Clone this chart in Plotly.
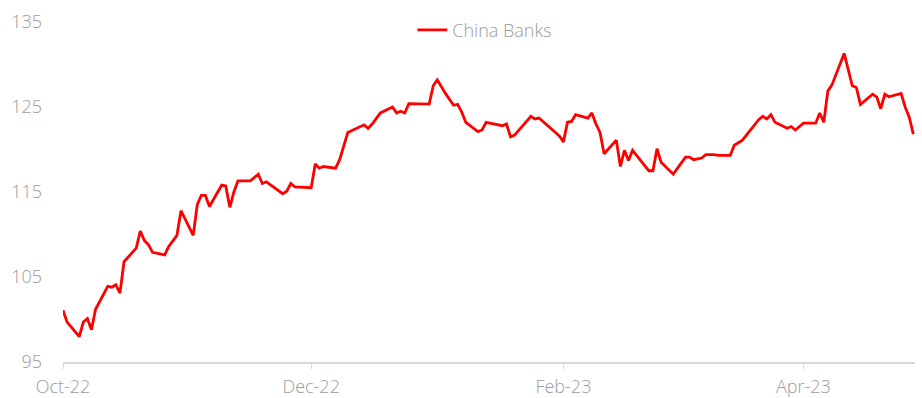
import plotly.graph_objects as go

# Vertex dates and index values
dates = [
    "2022-10-01", "2022-10-02", "2022-10-05", "2022-10-06", "2022-10-07", "2022-10-08", "2022-10-09",
    "2022-10-12", "2022-10-13", "2022-10-14", "2022-10-15", "2022-10-16", "2022-10-19", "2022-10-20",
    "2022-10-21", "2022-10-22", "2022-10-23", "2022-10-26", "2022-10-27", "2022-10-29", "2022-10-30",
    "2022-11-02", "2022-11-03", "2022-11-04", "2022-11-05", "2022-11-06", "2022-11-09", "2022-11-10",
    "2022-11-11", "2022-11-12", "2022-11-13", "2022-11-16", "2022-11-18", "2022-11-19", "2022-11-20",
    "2022-11-22", "2022-11-24", "2022-11-25", "2022-11-26", "2022-11-27", "2022-12-01", "2022-12-02",
    "2022-12-03", "2022-12-04", "2022-12-07", "2022-12-08", "2022-12-09", "2022-12-10", "2022-12-14",
    "2022-12-15", "2022-12-16", "2022-12-18", "2022-12-21", "2022-12-22", "2022-12-23", "2022-12-24",
    "2022-12-25", "2022-12-30", "2022-12-31", "2023-01-01", "2023-01-03", "2023-01-05", "2023-01-06",
    "2023-01-07", "2023-01-08", "2023-01-11", "2023-01-12", "2023-01-13", "2023-01-17", "2023-01-18",
    "2023-01-19", "2023-01-20", "2023-01-24", "2023-01-25", "2023-01-26", "2023-01-29", "2023-01-31",
    "2023-02-01", "2023-02-02", "2023-02-03", "2023-02-04", "2023-02-07", "2023-02-08", "2023-02-09",
    "2023-02-10", "2023-02-11", "2023-02-14", "2023-02-15", "2023-02-16", "2023-02-17", "2023-02-18",
    "2023-02-22", "2023-02-23", "2023-02-24", "2023-02-25", "2023-02-28", "2023-03-02", "2023-03-03",
    "2023-03-04", "2023-03-05", "2023-03-07", "2023-03-08", "2023-03-10", "2023-03-11", "2023-03-14",
    "2023-03-15", "2023-03-17", "2023-03-21", "2023-03-22", "2023-03-23", "2023-03-24", "2023-03-25",
    "2023-03-28", "2023-03-29", "2023-03-30", "2023-04-01", "2023-04-04", "2023-04-05", "2023-04-06",
    "2023-04-07", "2023-04-08", "2023-04-11", "2023-04-13", "2023-04-14", "2023-04-15", "2023-04-18",
    "2023-04-19", "2023-04-20", "2023-04-21", "2023-04-22", "2023-04-25", "2023-04-26", "2023-04-27",
    "2023-04-28",
]

china_banks = [
    101.1, 99.7, 98.0, 99.7, 100.1, 98.8, 101.2,
    103.9, 103.8, 104.1, 103.1, 106.8, 108.4, 110.4,
    109.3, 108.8, 107.9, 107.6, 108.6, 109.9, 112.8,
    109.9, 113.5, 114.6, 114.6, 113.3, 115.8, 115.7,
    113.2, 115.0, 116.3, 116.3, 117.1, 116.0, 116.2,
    115.5, 114.8, 115.1, 116.0, 115.6, 115.5, 118.3,
    117.8, 118.0, 117.8, 118.8, 120.4, 122.0, 122.9,
    122.5, 123.0, 124.3, 125.0, 124.3, 124.5, 124.3,
    125.4, 125.35, 127.5, 128.2, 126.6, 125.2, 125.3,
    124.4, 123.2, 122.1, 122.3, 123.2, 122.8, 123.0,
    121.5, 121.7, 123.9, 123.6, 123.7, 122.4, 121.6,
    120.9, 123.2, 123.3, 124.1, 123.7, 124.3, 123.0,
    122.0, 119.5, 121.1, 118.0, 119.9, 118.7, 119.9,
    117.5, 117.5, 120.1, 118.5, 117.1, 118.5, 119.1,
    119.1, 118.8, 119.0, 119.4, 119.4, 119.3, 119.3,
    120.5, 121.1, 123.5, 123.9, 123.6, 124.1, 123.2,
    122.5, 122.7, 122.3, 123.1, 123.1, 124.3, 123.2,
    126.9, 127.6, 131.3, 127.5, 127.3, 125.3, 126.5,
    126.2, 124.8, 126.5, 126.2, 126.6, 125.0, 123.8,
    121.8,
]

tick_dates = ["2022-10-01", "2022-12-01", "2023-02-01", "2023-04-01"]
tick_labels = ["Oct-22", "Dec-22", "Feb-23", "Apr-23"]
y_ticks = [95, 105, 115, 125, 135]

font_family = "Open Sans"
grey = "#9b9b9b"

fig = go.Figure()
fig.add_trace(go.Scatter(
    x=dates, y=china_banks, mode="lines", name="China Banks",
    line=dict(color="#ff0000", width=2.8),
    cliponaxis=False,
))

fig.update_layout(
    width=922, height=398,
    margin=dict(l=63, r=7, t=22, b=36, autoexpand=False),
    paper_bgcolor="white", plot_bgcolor="white",
    font=dict(family=font_family, size=18, color=grey, weight=300),
    showlegend=True,
    legend=dict(
        orientation="h", x=0.41, xanchor="left", y=0.976, yanchor="middle",
        bgcolor="rgba(0,0,0,0)", font=dict(family=font_family, size=18, color=grey, weight=300),
    ),
    hovermode=False,
)

fig.update_xaxes(
    type="date",
    range=["2022-10-01", "2023-04-28 10:00"],
    tickvals=tick_dates, ticktext=tick_labels,
    showgrid=False, zeroline=False,
    showline=True, linecolor="#d9d9d9", linewidth=1.5,
    ticks="outside", ticklen=5, tickcolor="#d9d9d9", tickwidth=1,
    ticklabelstandoff=3, automargin=False,
)

fig.update_yaxes(
    range=[95, 135],
    tickvals=y_ticks,
    showgrid=False, zeroline=False, showline=False,
    ticks="", ticklabelstandoff=20, automargin=False,
)

fig.write_html(
    "out.html",
    config={"displayModeBar": False, "staticPlot": True},
    post_script="document.body.style.margin='0';document.body.style.overflow='hidden';",
)
